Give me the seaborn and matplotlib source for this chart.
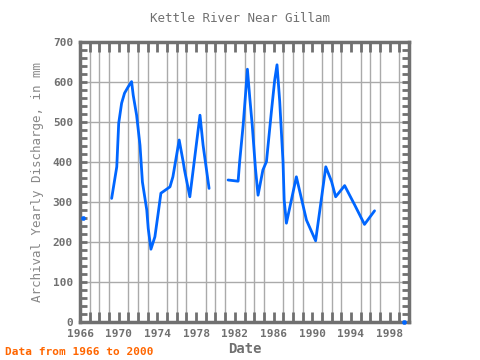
import numpy as np
import pandas as pd
import matplotlib
matplotlib.use("Agg")
import matplotlib.pyplot as plt
import seaborn as sns

# Yearly discharge traces (gaps split into segments)
seg_a_years = [1966.28]
seg_a_vals = [261]

seg_b_years = [1969.27, 1969.8, 1970.0, 1970.3, 1970.6, 1970.98, 1971.33, 1971.5,
               1971.85, 1972.2, 1972.45, 1972.9, 1973.05, 1973.33, 1973.74, 1974.08,
               1974.36, 1974.6, 1975.3, 1975.6, 1976.25, 1976.66, 1976.8, 1977.35,
               1978.4, 1978.72, 1979.24, 1979.34]
seg_b_vals = [309, 388, 497, 547, 572, 588, 601, 567,
              517, 442, 350, 280, 234, 182, 213, 272,
              322, 326, 338, 363, 455, 401, 380, 313,
              517, 442, 351, 334]

seg_c_years = [1981.3, 1982.34, 1982.5, 1982.86, 1983.1, 1983.3, 1983.55, 1983.8,
               1984.13, 1984.4, 1984.9, 1985.27, 1985.78, 1986.12, 1986.36, 1986.64,
               1986.98, 1987.1, 1987.33, 1988.36, 1989.4, 1990.35, 1990.93, 1991.4,
               1992.0, 1992.42, 1993.35, 1994.38, 1995.4, 1996.44]
seg_c_vals = [355, 352, 401, 492, 567, 632, 559, 492,
              384, 317, 380, 401, 526, 605, 643, 551,
              401, 305, 247, 363, 255, 203, 305, 388,
              351, 313, 341, 293, 244, 278]

seg_d_years = [1999.44]
seg_d_vals = [0]

x_ticks = list(range(1966, 1999, 4))
y_ticks = list(range(0, 701, 100))

line_color = "#0066ff"
grey = "#707070"
mono = ["DejaVu Sans Mono"]

sns.set_style("white")
plt.rcParams["font.family"] = mono

frames = []
for i, (xs, ys) in enumerate([(seg_a_years, seg_a_vals), (seg_b_years, seg_b_vals),
                              (seg_c_years, seg_c_vals), (seg_d_years, seg_d_vals)]):
    frames.append(pd.DataFrame({"year": xs, "value": ys, "seg": i}))
df = pd.concat(frames, ignore_index=True)
lines = df[df["seg"].isin([1, 2])]
points = df[df["seg"].isin([0, 3])]

fig = plt.figure(figsize=(4.8, 3.6), dpi=100)
ax = fig.add_axes([80 / 480, 38 / 360, 329 / 480, 280 / 360])

sns.lineplot(data=lines, x="year", y="value", units="seg", estimator=None,
             color=line_color, linewidth=2, ax=ax, legend=False, zorder=3)
sns.scatterplot(data=points, x="year", y="value", color=line_color, s=10,
                edgecolor=line_color, ax=ax, legend=False, zorder=4, clip_on=False)

ax.set_xlim(1966, 2000)
ax.set_ylim(0, 700)
ax.set_xticks(x_ticks)
ax.set_xticks(range(1966, 2000), minor=True)
ax.set_yticks(y_ticks)
ax.set_yticks(range(0, 701, 20), minor=True)

ax.grid(False)
ax.grid(True, axis="x", which="minor", color="#aaaaaa", linewidth=1, zorder=0)
ax.grid(True, axis="y", which="major", color="#aaaaaa", linewidth=1, zorder=0)
ax.set_axisbelow(True)

ax.tick_params(axis="x", which="both", direction="in", top=True, bottom=True,
               length=7, width=2, color=grey)
ax.tick_params(axis="y", which="both", direction="in", left=True, right=True,
               length=5, width=2, color=grey)
ax.tick_params(axis="both", which="major", labelsize=8, labelcolor="#707070", pad=5)
for lab in ax.get_xticklabels() + ax.get_yticklabels():
    lab.set_fontweight("bold")

for sp in ax.spines.values():
    sp.set_color(grey)
    sp.set_linewidth(2.5)

ax.set_xlabel("Date", fontsize=10, fontweight="bold", color="#707070", labelpad=2)
ax.set_ylabel("Archival Yearly Discharge, in mm", fontsize=9, color="#888888", labelpad=6)
fig.text(0.5, 0.95, "Kettle River Near Gillam", ha="center", va="center",
         fontsize=9, color="#707070")
fig.text(0.01, 0.022, "Data from 1966 to 2000", ha="left", va="center",
         fontsize=8, fontweight="bold", color="#ff6600")

fig.savefig("out.png", dpi=100)
